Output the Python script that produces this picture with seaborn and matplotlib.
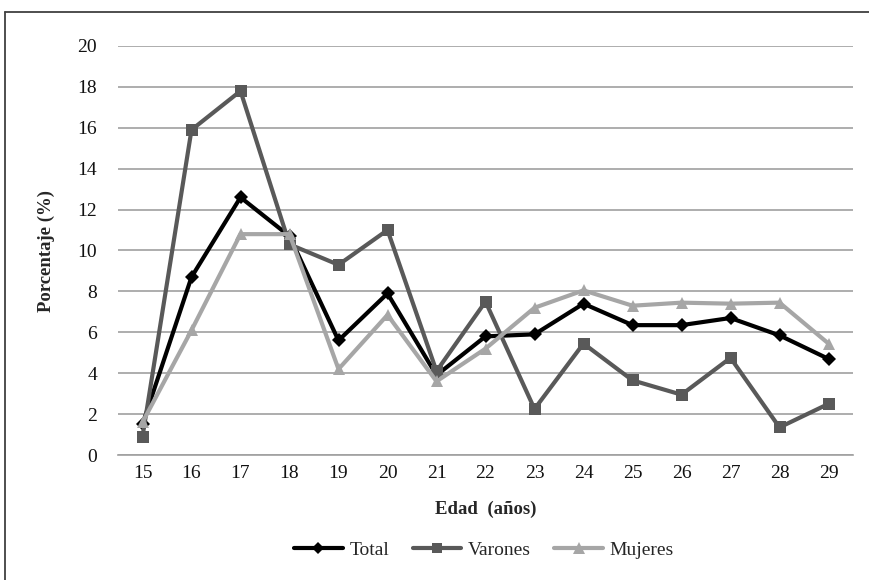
import matplotlib
matplotlib.use("Agg")
import matplotlib.pyplot as plt
import seaborn as sns
import pandas as pd
from matplotlib.lines import Line2D

edad = [15, 16, 17, 18, 19, 20, 21, 22, 23, 24, 25, 26, 27, 28, 29]
total = [1.5, 8.7, 12.6, 10.7, 5.6, 7.9, 3.9, 5.8, 5.9, 7.4, 6.35, 6.35, 6.7, 5.85, 4.7]
varones = [0.9, 15.9, 17.8, 10.3, 9.3, 11.0, 4.1, 7.5, 2.25, 5.45, 3.65, 2.95, 4.75, 1.35, 2.5]
mujeres = [1.6, 6.1, 10.8, 10.8, 4.2, 6.85, 3.6, 5.2, 7.2, 8.05, 7.3, 7.45, 7.4, 7.45, 5.45]
series = ["Total", "Varones", "Mujeres"]
yticks = [0, 2, 4, 6, 8, 10, 12, 14, 16, 18, 20]

sns.set_theme(style="white")
plt.rcParams['font.family'] = ['Liberation Serif', 'DejaVu Serif']

df = pd.DataFrame({"Edad": edad * 3,
                   "Valor": total + varones + mujeres,
                   "Serie": ["Total"] * 15 + ["Varones"] * 15 + ["Mujeres"] * 15})

colors = {"Total": "#000000", "Varones": "#595959", "Mujeres": "#a6a6a6"}
markers = {"Total": "D", "Varones": "s", "Mujeres": "^"}
msizes = {"Total": 7, "Varones": 8, "Mujeres": 9}

fig = plt.figure(figsize=(8.69, 5.80), dpi=100)
ax = fig.add_axes([118 / 869, 1 - 455 / 580, (853 - 118) / 869, (455 - 46) / 580])

for i, s in enumerate(series):
    sub = df[df["Serie"] == s]
    sns.lineplot(data=sub, x="Edad", y="Valor", ax=ax, color=colors[s],
                 marker=markers[s], markersize=msizes[s], markeredgewidth=0,
                 linewidth=3.0, legend=False, zorder=3 + i)

ax.set_xlim(14.5, 29.5)
ax.set_ylim(0, 20)
ax.set_yticks(yticks)
ax.set_xticks(edad)
ax.set_xticklabels([str(e) for e in edad])
ax.yaxis.grid(True, color="#a0a0a0", linewidth=1.2)
ax.xaxis.grid(False)
for sp in ["top", "right", "left"]:
    ax.spines[sp].set_visible(False)
ax.spines["bottom"].set_color("#a0a0a0")
ax.spines["bottom"].set_linewidth(1.2)
ax.tick_params(axis="both", length=0, labelsize=14, colors="#111111")
ax.tick_params(axis="y", pad=15)
ax.tick_params(axis="x", pad=7)
ax.set_xlabel("Edad  (años)", fontsize=13.5, fontweight="bold", labelpad=14)
ax.set_ylabel("Porcentaje (%)", fontsize=13.5, fontweight="bold", labelpad=16)

handles = [Line2D([0], [0], color=colors[s], marker=markers[s], markersize=msizes[s] - 1,
                  markeredgewidth=0, linewidth=3.0) for s in series]
fig.legend(handles, series, loc="center", bbox_to_anchor=(484 / 869, 1 - 550 / 580),
           ncol=3, frameon=False, fontsize=14, handlelength=2.5, columnspacing=1.2,
           handletextpad=0.35)

# chart frame (top and left edges)
fig.add_artist(Line2D([5 / 869, 1.0], [1 - 12 / 580, 1 - 12 / 580], color="#404040",
                      linewidth=1.3, transform=fig.transFigure))
fig.add_artist(Line2D([5 / 869, 5 / 869], [0, 1 - 12 / 580], color="#404040",
                      linewidth=1.3, transform=fig.transFigure))

fig.savefig("out.png", dpi=100)
